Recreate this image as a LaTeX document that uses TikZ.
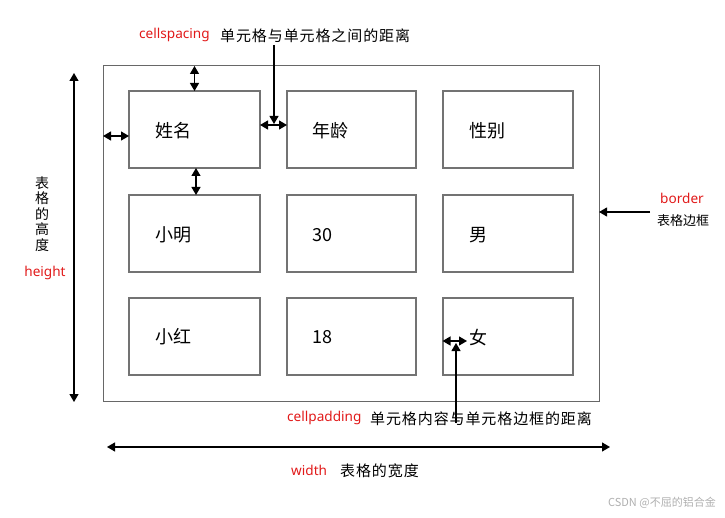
\documentclass[tikz,border=0pt]{standalone}
\usepackage{fontspec}
\setmainfont{Noto Sans CJK SC}
\newfontfamily\cjkspaced[LetterSpace=6]{Noto Sans CJK SC}
\newfontfamily\latinlbl{Noto Sans}
\usetikzlibrary{arrows.meta}
\definecolor{lblred}{RGB}{225,25,25}
\definecolor{cellgray}{RGB}{115,115,115}
\definecolor{markgray}{RGB}{175,175,175}
\tikzset{
  tablebox/.style={draw=cellgray!90!black, line width=1pt, inner sep=0pt, outer sep=0pt, minimum width=496pt, minimum height=335pt},
  cellbox/.style={draw=cellgray, line width=1.3pt, inner sep=0pt, outer sep=0pt, minimum width=130pt, minimum height=77pt},
  celltext/.style={anchor=west, inner sep=0pt, font=\fontsize{18}{20}\selectfont},
  redlbl/.style={text=lblred, inner sep=0pt, font=\latinlbl\fontsize{13.6}{15}\selectfont},
  cnlbl/.style={inner sep=0pt, font=\cjkspaced\fontsize{15}{17}\selectfont},
  dbl/.style={{Triangle[length=8pt,width=9pt]}-{Triangle[length=8pt,width=9pt]}, line width=1.2pt},
  ptr/.style={-{Triangle[length=8pt,width=9pt]}, line width=1.1pt}
}
\begin{document}
\begin{tikzpicture}[x=1pt,y=-1pt]
\useasboundingbox (0,0) rectangle (725,518);
% table and cells
\node[tablebox] (table) at (351,233.5) {};
\node[cellbox, minimum width=131pt] (c11) at (194.5,129.5) {};
\node[cellbox, minimum width=129pt] (c12) at (351.5,129.5) {};
\node[cellbox] (c13) at (508,129.5) {};
\node[cellbox, minimum width=131pt] (c21) at (194.5,233.5) {};
\node[cellbox, minimum width=129pt] (c22) at (351.5,233.5) {};
\node[cellbox] (c23) at (508,233.5) {};
\node[cellbox, minimum width=131pt] (c31) at (194.5,336.5) {};
\node[cellbox, minimum width=129pt] (c32) at (351.5,336.5) {};
\node[cellbox] (c33) at (508,336.5) {};
% cell texts
\node[celltext] (t11) at (155,131) {姓名};
\node[celltext] (t12) at (312,131) {年龄};
\node[celltext] (t13) at (469,131) {性别};
\node[celltext] (t21) at (155,235) {小明};
\node[celltext] (t22) at (312,235) {30};
\node[celltext] (t23) at (469,235) {男};
\node[celltext] (t31) at (155,337) {小红};
\node[celltext] (t32) at (312,337) {18};
\node[celltext] (t33) at (469,338) {女};
% labels
\node[redlbl, anchor=west] (lcs) at (139,35) {cellspacing};
\node[cnlbl, anchor=west] (lcsz) at (220,36) {单元格与单元格之间的距离};
\node[redlbl, anchor=west] (lcp) at (287,418) {cellpadding};
\node[cnlbl, anchor=west] (lcpz) at (370,419) {单元格内容与单元格边框的距离};
\node[redlbl, anchor=west] (lw) at (291,470) {width};
\node[cnlbl, anchor=west] (lwz) at (340,471) {表格的宽度};
\node[redlbl] (lb) at (682,198) {border};
\node[cnlbl, font=\fontsize{13}{15}\selectfont] (lbz) at (683,221) {表格边框};
\node[cnlbl, align=center, font=\fontsize{14}{15.6}\selectfont] (lhz) at (42,214) {表\\格\\的\\高\\度};
\node[redlbl] (lh) at (45,273) {height};
\node[inner sep=0pt, text=markgray, font=\fontsize{11}{13}\selectfont, anchor=east] (wm) at (716,503) {CSDN @不屈的铝合金};
% coordinates
\coordinate (hs1) at (103,136);
\coordinate (hs2) at (129,136);
\coordinate (cs1) at (260,125);
\coordinate (cs2) at (287,125);
\coordinate (csp) at (274,45);
\coordinate (cse) at (274,124);
\coordinate (ht1) at (74,73);
\coordinate (ht2) at (74,402);
\coordinate (bs) at (650,212);
\coordinate (be) at (599,212);
\coordinate (cp1) at (442.5,341);
\coordinate (cp2) at (467,341);
\coordinate (cpp) at (456,423);
\coordinate (cpe) at (456,343);
\coordinate (w1) at (107,447);
\coordinate (w2) at (610,447);
% arrows
\draw[dbl] (c11.north) -- (c11.north |- table.north);
\draw[dbl] (hs1) -- (hs2);
\draw[dbl] ([xshift=1.5pt]c11.south) -- ([xshift=1.5pt]c21.north);
\draw[dbl] (cs1) -- (cs2);
\draw[ptr] (csp) -- (cse);
\draw[dbl] (ht1) -- (ht2);
\draw[ptr] (bs) -- (be);
\draw[dbl] (cp1) -- (cp2);
\draw[ptr] (cpp) -- (cpe);
\draw[dbl] (w1) -- (w2);
\end{tikzpicture}
\end{document}
